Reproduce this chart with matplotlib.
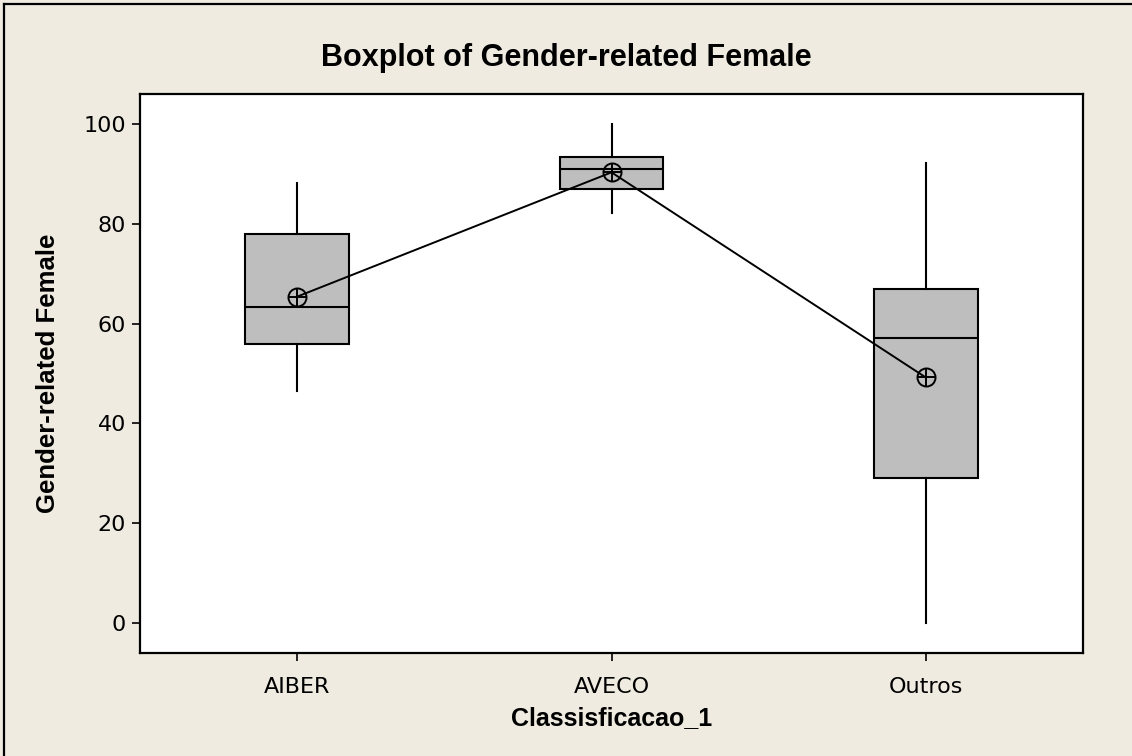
import matplotlib
matplotlib.use("Agg")
import matplotlib.pyplot as plt
from matplotlib.lines import Line2D

# values
groups = ["AIBER", "AVECO", "Outros"]
whis_low = [46.4, 82.2, 0.0]
q1 = [56.0, 87.0, 29.0]
medians = [63.4, 90.9, 57.1]
q3 = [78.0, 93.3, 66.9]
whis_high = [88.2, 100.0, 92.2]
means = [65.4, 90.3, 49.2]
y_ticks = [0, 20, 40, 60, 80, 100]

bg = "#efebe0"
box_fill = "#bebebe"

plt.rcParams["font.family"] = ["DejaVu Sans"]

fig = plt.figure(figsize=(11.32, 7.56), dpi=100, facecolor=bg)
ax = fig.add_axes([140 / 1132, 1 - 653 / 756, 943 / 1132, 559 / 756])
ax.set_facecolor("white")

stats = []
for i in range(len(groups)):
    stats.append({
        "label": groups[i],
        "whislo": whis_low[i],
        "q1": q1[i],
        "med": medians[i],
        "q3": q3[i],
        "whishi": whis_high[i],
        "fliers": [],
    })

pos = list(range(1, len(groups) + 1))
ax.bxp(stats, positions=pos, widths=0.33, patch_artist=True, showcaps=False,
       showfliers=False,
       boxprops=dict(facecolor=box_fill, edgecolor="black", linewidth=1.5),
       medianprops=dict(color="black", linewidth=1.5),
       whiskerprops=dict(color="black", linewidth=1.5))

# mean connect line + circled-plus symbols
ax.plot(pos, means, color="black", linewidth=1.4, zorder=4)
ax.plot(pos, means, linestyle="none", marker="o", markersize=13,
        markerfacecolor="none", markeredgecolor="black", markeredgewidth=1.4, zorder=5)
ax.plot(pos, means, linestyle="none", marker="+", markersize=13,
        markeredgecolor="black", markeredgewidth=1.4, zorder=5)

ax.set_xlim(0.5, 3.5)
ax.set_ylim(-6, 106)
ax.set_yticks(y_ticks)
ax.set_xticks(pos)
ax.set_xticklabels(groups)
ax.tick_params(direction="out", length=6, width=1.2, labelsize=16, pad=4,
               top=False, right=False)
ax.tick_params(axis="x", pad=11)
for s in ax.spines.values():
    s.set_linewidth(1.6)

ax.set_xlabel("Classisficacao_1", fontsize=18, fontweight="bold",
              family="Liberation Sans", labelpad=7)
ax.set_ylabel("Gender-related Female", fontsize=18.5, fontweight="bold",
              family="Liberation Sans", labelpad=17)
fig.text(566 / 1132, 1 - 58 / 756, "Boxplot of Gender-related Female", ha="center",
         va="center", fontsize=22, fontweight="bold", family="Liberation Sans")

# frame line of the screenshot (left and top edges)
fig.add_artist(Line2D([3.5 / 1132, 3.5 / 1132], [0, 1 - 4 / 756],
                      transform=fig.transFigure, color="black", linewidth=1.6))
fig.add_artist(Line2D([3.5 / 1132, 1.01], [1 - 4 / 756, 1 - 4 / 756],
                      transform=fig.transFigure, color="black", linewidth=1.6))

fig.savefig("out.png", dpi=100, facecolor=bg)
